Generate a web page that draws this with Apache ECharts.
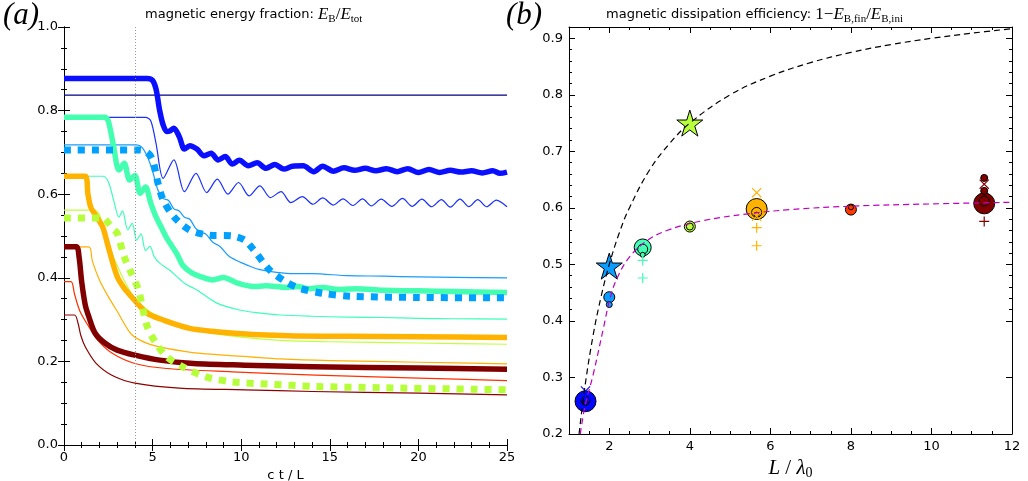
<!DOCTYPE html>
<html>
<head>
<meta charset="utf-8">
<script src="https://cdn.jsdelivr.net/npm/echarts@6/dist/echarts.min.js"></script>
<style>
  html, body { margin: 0; background: #fff; }
  #chart { width: 1028px; height: 481px; }
</style>
</head>
<body>
<div id="chart"></div>
<script>
// ---- panel (a): magnetic energy fraction vs c t / L ----
const xTicksA = [0, 5, 10, 15, 20, 25]
const yTicksA = [0.0, 0.2, 0.4, 0.6, 0.8, 1.0]

const thickBlue = [[0,0.877],[4.7,0.877],[5.0,0.872],[5.2,0.85],[5.4,0.80],[5.6,0.765],[5.8,0.750],[6.0,0.752],[6.2,0.758],[6.5,0.738],[6.8,0.708],[7.1,0.716],[7.5,0.708],[7.9,0.692],[8.3,0.698],[8.7,0.682],[9.1,0.690],[9.5,0.672],[9.9,0.681],[10.4,0.668],[10.9,0.675],[11.4,0.662],[11.9,0.671],[12.4,0.660],[12.9,0.667],[13.5,0.668],[14.1,0.654],[14.6,0.667],[15.2,0.655],[15.8,0.663],[16.4,0.657],[17.0,0.662],[17.6,0.656],[18.2,0.661],[18.8,0.654],[19.4,0.661],[20.0,0.652],[20.6,0.659],[21.2,0.652],[21.8,0.657],[22.4,0.653],[23.0,0.656],[23.6,0.651],[24.2,0.656],[24.6,0.650],[25,0.653]]
const navyFlat = [[0,0.837],[25,0.837]]
const thinBlue = [[0,0.784],[4.6,0.784],[4.9,0.775],[5.2,0.72],[5.6,0.638],[6.2,0.682],[6.8,0.606],[7.45,0.650],[8.05,0.604],[8.65,0.636],[9.25,0.600],[9.85,0.628],[10.45,0.596],[11.05,0.620],[11.65,0.592],[12.25,0.606],[12.8,0.580],[13.45,0.594],[14.05,0.576],[14.6,0.591],[15.2,0.574],[15.75,0.589],[16.3,0.573],[16.85,0.589],[17.35,0.572],[17.9,0.588],[18.5,0.571],[19.1,0.590],[19.65,0.571],[20.2,0.588],[20.75,0.570],[21.3,0.587],[21.8,0.569],[22.35,0.588],[22.85,0.570],[23.35,0.587],[23.85,0.570],[24.4,0.586],[25,0.570]]
const thickAqua = [[0,0.784],[2.3,0.784],[2.5,0.775],[2.8,0.714],[3.1,0.658],[3.4,0.674],[3.7,0.634],[4.0,0.645],[4.3,0.602],[4.6,0.617],[4.9,0.578],[5.2,0.545],[5.5,0.52],[5.8,0.495],[6.1,0.475],[6.4,0.455],[6.7,0.43],[7.2,0.412],[7.7,0.403],[8.4,0.395],[9.0,0.401],[9.8,0.387],[10.7,0.379],[11.4,0.381],[12.5,0.377],[13.2,0.379],[13.8,0.374],[14.6,0.377],[15.5,0.372],[16.5,0.374],[18,0.370],[20,0.369],[22,0.367],[25,0.365]]
const thinDodger = [[0,0.718],[4.1,0.718],[4.4,0.712],[4.7,0.69],[5.0,0.655],[5.3,0.61],[5.6,0.59],[5.9,0.585],[6.2,0.565],[6.5,0.56],[6.8,0.545],[7.1,0.54],[7.4,0.52],[7.7,0.508],[8.0,0.505],[8.4,0.485],[8.8,0.475],[9.3,0.452],[9.8,0.44],[10.3,0.431],[11,0.42],[12,0.413],[13,0.41],[14,0.41],[16,0.405],[18,0.404],[20,0.402],[22,0.401],[25,0.40]]
const dottedDodger = [[0,0.706],[4.3,0.706],[4.7,0.70],[5.0,0.682],[5.3,0.627],[5.6,0.586],[6.2,0.546],[7.1,0.514],[8.2,0.502],[9.5,0.500],[10.2,0.49],[10.7,0.467],[11.6,0.419],[12.5,0.391],[13.3,0.375],[14.6,0.363],[16.2,0.356],[20,0.353],[25,0.352]]
const thinAqua = [[0,0.643],[2.2,0.643],[2.5,0.63],[2.8,0.586],[3.1,0.545],[3.3,0.56],[3.6,0.515],[3.85,0.53],[4.1,0.49],[4.35,0.505],[4.6,0.465],[4.85,0.475],[5.1,0.45],[5.4,0.435],[6.0,0.417],[6.8,0.387],[7.5,0.371],[8.6,0.34],[9.9,0.323],[11.0,0.316],[12.2,0.311],[14,0.308],[16,0.306],[18,0.305],[20,0.303],[22,0.302],[25,0.301]]
const thickOrange = [[0,0.643],[1.2,0.643],[1.35,0.6],[1.5,0.57],[1.7,0.555],[2.0,0.535],[2.2,0.52],[2.5,0.474],[3.0,0.403],[3.4,0.375],[3.8,0.355],[4.7,0.315],[5.6,0.299],[7.1,0.279],[8.6,0.271],[10,0.266],[11.4,0.263],[13,0.261],[16,0.260],[20,0.259],[25,0.257]]
const thinYG = [[0,0.562],[1.7,0.562],[2.0,0.55],[2.3,0.51],[2.7,0.46],[3.1,0.42],[3.5,0.385],[4.0,0.35],[4.5,0.33],[5.0,0.315],[6,0.297],[7,0.282],[8,0.27],[10,0.258],[12,0.251],[15,0.247],[20,0.244],[25,0.241]]
const dottedYG = [[0,0.543],[2.2,0.543],[2.5,0.531],[2.8,0.515],[3.0,0.507],[3.4,0.450],[3.8,0.411],[4.2,0.371],[4.7,0.283],[5.2,0.243],[5.8,0.211],[6.7,0.187],[8.0,0.163],[9.5,0.151],[11.4,0.146],[14.2,0.140],[18,0.137],[25,0.132]]
const thinOrange = [[0,0.474],[1.4,0.474],[1.6,0.44],[2.0,0.395],[2.5,0.355],[3.0,0.32],[3.8,0.265],[4.7,0.243],[5.8,0.231],[7.7,0.219],[10.5,0.211],[12.2,0.206],[15,0.202],[20,0.198],[25,0.194]]
const thickMaroon = [[0,0.474],[0.7,0.474],[0.85,0.45],[1.0,0.39],[1.2,0.335],[1.4,0.307],[1.75,0.268],[2.3,0.244],[3.0,0.227],[4.0,0.215],[5.4,0.203],[7.3,0.195],[10.2,0.191],[14,0.187],[20,0.184],[25,0.181]]
const thinRed = [[0,0.391],[0.4,0.391],[0.6,0.36],[0.9,0.32],[1.4,0.283],[1.9,0.251],[2.7,0.22],[4.0,0.195],[5.8,0.183],[9.5,0.175],[14.2,0.167],[20,0.16],[25,0.154]]
const thinDarkRed = [[0,0.311],[0.6,0.311],[0.8,0.29],[0.95,0.262],[1.2,0.235],[1.8,0.196],[2.7,0.167],[4.0,0.148],[6.5,0.136],[10.2,0.132],[14,0.128],[20,0.124],[25,0.120]]
const markTime = 4

// ---- panel (b): dissipation efficiency vs L / lambda0 ----
const xTicksB = [2, 4, 6, 8, 10, 12]
const yTicksB = [0.2, 0.3, 0.4, 0.5, 0.6, 0.7, 0.8, 0.9]

const blackCurve = [[1.25,0.2],[1.4,0.286],[1.6,0.375],[1.8,0.444],[2,0.5],[2.25,0.556],[2.5,0.6],[3,0.667],[3.5,0.714],[4,0.75],[5,0.8],[6,0.833],[7,0.857],[8,0.875],[9,0.889],[10,0.9],[11,0.909],[12,0.917]]
const magentaCurve = [[1.28,0.2],[1.4,0.25],[1.6,0.305],[1.86,0.389],[2.02,0.44],[2.19,0.475],[2.5,0.513],[2.94,0.542],[3.43,0.56],[4.3,0.577],[5.4,0.589],[6.5,0.597],[8,0.603],[10,0.607],[12,0.61]]

const starPts = [[2,0.497],[4,0.750]]
const discLarge = [[1.41,0.258],[2.83,0.530],[5.66,0.598],[11.31,0.608]]
const discMid = [[1.41,0.259],[2,0.442],[2.83,0.527],[4,0.567],[5.66,0.592],[8,0.597],[11.31,0.612]]
const discSmall = [[1.41,0.255],[2,0.429],[2.83,0.517],[4,0.567],[5.66,0.588],[8,0.601],[11.31,0.630],[11.31,0.653]]
const crossPts = [[1.41,0.276],[5.66,0.627],[5.66,0.585],[11.31,0.642]]
const plusPts = [[1.41,0.262],[2.83,0.507],[2.83,0.476],[5.66,0.565],[5.66,0.533],[11.31,0.576]]

// styles
const caseColor = {1.41:'#0008ff', 2:'#0a9cff', 2.83:'#42ffb4', 4:'#b8ff3c', 5.66:'#ffb300', 8:'#ff3a00', 11.31:'#800000'}
const largeSize = {1.41:21, 2.83:17, 5.66:21, 11.31:21}
const midSize = {1.41:9, 2:11, 2.83:10, 4:11, 5.66:10, 8:11, 11.31:10}
const smallSize = {1.41:5, 2:6, 2.83:5, 4:7, 5.66:5, 8:5, 11.31:7}
const STAR = 'path://M0,-100L22.45,-30.9L95.1,-30.9L36.33,11.8L58.8,80.9L0,38.2L-58.8,80.9L-36.33,11.8L-95.1,-30.9L-22.45,-30.9Z'
const PLUS = 'path://M4.4,0h1.2v10h-1.2zM0,4.4h10v1.2h-10z'
const CROSS = 'path://M0,0.8L0.8,0L10,9.2L9.2,10ZM9.2,0L10,0.8L0.8,10L0,9.2Z'

const SANS = 'DejaVu Sans'
const SERIF = 'Liberation Serif'

function line(data, color, width, dotted) {
    return {
        type: 'line', xAxisIndex: 0, yAxisIndex: 0, data: data,
        symbol: 'none', smooth: 0.3,
        lineStyle: {color: color, width: width, type: dotted ? [7, 7] : 'solid', cap: 'butt', join: 'round'},
        emphasis: {disabled: true}
    }
}

function dots(data, symbol, sizeOf, border) {
    return {
        type: 'scatter', xAxisIndex: 2, yAxisIndex: 2, data: data,
        symbol: symbol,
        symbolSize: function (v) { return sizeOf[v[0]] },
        itemStyle: {
            color: function (p) { return caseColor[p.value[0]] },
            borderColor: border ? '#000' : 'transparent',
            borderWidth: border ? 1 : 0,
            opacity: 1
        },
        emphasis: {disabled: true}
    }
}

function tickAxis(extra) {
    return Object.assign({
        type: 'value',
        axisLine: {show: true, lineStyle: {color: '#000', width: 1}},
        axisTick: {show: true, inside: true, length: 6, lineStyle: {color: '#000', width: 1}},
        axisLabel: {show: false},
        splitLine: {show: false}
    }, extra)
}

const labelStyle = {show: true, color: '#000', fontFamily: SANS, fontSize: 13}
const yMinorB = []
for (let k = 21; k <= 46; k++) if (k % 5 !== 0) yMinorB.push(k * 0.02)
const xMinorB = [1.5, 2.5, 3, 3.5, 4.5, 5, 5.5, 6.5, 7, 7.5, 8.5, 9, 9.5, 10.5, 11, 11.5]

const aMinor = {show: true, length: 3, lineStyle: {color: '#000'}}

const titleRich = {
    t: {fontFamily: SANS, fontSize: 13, fontWeight: 'normal', color: '#000', lineHeight: 20},
    m: {fontFamily: SERIF, fontStyle: 'italic', fontWeight: 'normal', fontSize: 17, color: '#000', lineHeight: 20},
    u: {fontFamily: SERIF, fontWeight: 'normal', fontSize: 17, color: '#000', lineHeight: 20},
    s: {fontFamily: SERIF, fontWeight: 'normal', fontSize: 11, color: '#000', lineHeight: 12, verticalAlign: 'bottom'}
}

let option = {
    animation: false,
    backgroundColor: '#fff',
    title: [
        {
            left: 140, top: 0,
            text: '{t|magnetic energy fraction: }{m|E}{s|B}{u|/}{m|E}{s|tot}',
            textStyle: {fontWeight: 'normal', rich: titleRich}
        },
        {
            left: 601, top: 0,
            text: '{t|magnetic dissipation efficiency: }{u|1−}{m|E}{s|B,fin}{u|/}{m|E}{s|B,ini}',
            textStyle: {fontWeight: 'normal', rich: titleRich}
        }
    ],
    graphic: [
        {type: 'text', left: 3, top: 0, style: {text: '(a)', font: 'italic 31px "Liberation Serif"', fill: '#000'}},
        {type: 'text', left: 506, top: 0, style: {text: '(b)', font: 'italic 31px "Liberation Serif"', fill: '#000'}}
    ],
    grid: [
        {left: 64, top: 27, width: 443, height: 418, outerBoundsMode: 'none', containLabel: false},
        {left: 569, top: 27, width: 443, height: 407, outerBoundsMode: 'none', containLabel: false}
    ],
    xAxis: [
        tickAxis({gridIndex: 0, position: 'bottom', min: 0, max: 25, interval: 5,
            axisLabel: Object.assign({margin: 6, customValues: xTicksA}, labelStyle),
            minorTick: Object.assign({splitNumber: 5}, aMinor),
            name: 'c t / L', nameLocation: 'middle', nameGap: 23,
            nameTextStyle: {fontFamily: SANS, fontSize: 13, color: '#000'}}),
        tickAxis({gridIndex: 0, position: 'top', min: 0, max: 25, interval: 5,
            minorTick: Object.assign({splitNumber: 5}, aMinor)}),
        tickAxis({gridIndex: 1, position: 'bottom', min: 1, max: 12,
            axisTick: {show: true, inside: true, length: 6, customValues: xTicksB, lineStyle: {color: '#000'}},
            axisLabel: Object.assign({margin: 6, customValues: xTicksB}, labelStyle),
            name: '{m|L}{u| / }{m|λ}{s|0}', nameLocation: 'middle', nameGap: 20,
            nameTextStyle: {rich: {
                m: {fontFamily: SERIF, fontStyle: 'italic', fontSize: 21, color: '#000', lineHeight: 24},
                u: {fontFamily: SERIF, fontSize: 21, color: '#000', lineHeight: 24},
                s: {fontFamily: SERIF, fontSize: 14, color: '#000', lineHeight: 14, verticalAlign: 'bottom'}
            }}}),
        tickAxis({gridIndex: 1, position: 'bottom', min: 1, max: 12, axisLine: {show: false},
            axisTick: {show: true, inside: true, length: 3, customValues: xMinorB, lineStyle: {color: '#000'}}}),
        tickAxis({gridIndex: 1, position: 'top', min: 1, max: 12,
            axisTick: {show: true, inside: true, length: 6, customValues: xTicksB, lineStyle: {color: '#000'}}}),
        tickAxis({gridIndex: 1, position: 'top', min: 1, max: 12, axisLine: {show: false},
            axisTick: {show: true, inside: true, length: 3, customValues: xMinorB, lineStyle: {color: '#000'}}})
    ],
    yAxis: [
        tickAxis({gridIndex: 0, position: 'left', min: 0, max: 1, interval: 0.2,
            axisLabel: Object.assign({margin: 6, formatter: v => v.toFixed(1)}, labelStyle),
            minorTick: Object.assign({splitNumber: 4}, aMinor)}),
        tickAxis({gridIndex: 0, position: 'right', min: 0, max: 1, interval: 0.2,
            minorTick: Object.assign({splitNumber: 4}, aMinor)}),
        tickAxis({gridIndex: 1, position: 'left', min: 0.2, max: 0.92,
            axisTick: {show: true, inside: true, length: 6, customValues: yTicksB, lineStyle: {color: '#000'}},
            axisLabel: Object.assign({margin: 6, customValues: yTicksB, formatter: v => v.toFixed(1)}, labelStyle)}),
        tickAxis({gridIndex: 1, position: 'left', min: 0.2, max: 0.92, axisLine: {show: false},
            axisTick: {show: true, inside: true, length: 3, customValues: yMinorB, lineStyle: {color: '#000'}}}),
        tickAxis({gridIndex: 1, position: 'right', min: 0.2, max: 0.92,
            axisTick: {show: true, inside: true, length: 6, customValues: yTicksB, lineStyle: {color: '#000'}}}),
        tickAxis({gridIndex: 1, position: 'right', min: 0.2, max: 0.92, axisLine: {show: false},
            axisTick: {show: true, inside: true, length: 3, customValues: yMinorB, lineStyle: {color: '#000'}}})
    ],
    series: [
        Object.assign(line(navyFlat, '#000080', 1.2, false), {
            markLine: {
                silent: true, symbol: 'none', label: {show: false},
                lineStyle: {color: '#999', width: 1, type: [1, 2]},
                data: [{xAxis: markTime}]
            }
        }),
        line(thinDarkRed, '#8c0000', 1.2),
        line(thinRed, '#ff3000', 1.2),
        line(thinOrange, '#ffb000', 1.2),
        line(thinYG, '#c0ff3a', 1.2),
        line(thinAqua, '#3dffb8', 1.2),
        line(thinDodger, '#1a9cff', 1.2),
        line(thinBlue, '#1a30ff', 1.2),
        line(thickMaroon, '#800000', 5.5),
        line(thickOrange, '#ffb300', 5.5),
        line(thickAqua, '#45ffb0', 5.5),
        line(thickBlue, '#0a10ff', 5.5),
        line(dottedYG, '#b5ff3a', 7, true),
        line(dottedDodger, '#00a0ff', 7, true),

        {type: 'line', xAxisIndex: 2, yAxisIndex: 2, data: blackCurve, symbol: 'none', smooth: 0.4,
            lineStyle: {color: '#000', width: 1.2, type: [6, 4]}, emphasis: {disabled: true}},
        {type: 'line', xAxisIndex: 2, yAxisIndex: 2, data: magentaCurve, symbol: 'none', smooth: 0.4,
            lineStyle: {color: '#c000c0', width: 1.2, type: [6, 4]}, emphasis: {disabled: true}},
        dots(discLarge, 'circle', largeSize, true),
        dots(discMid, 'circle', midSize, true),
        dots(discSmall, 'circle', smallSize, true),
        dots(starPts, STAR, {2: 26, 4: 26}, true),
        dots(crossPts, CROSS, {1.41: 10, 5.66: 10, 11.31: 10}, false),
        dots(plusPts, PLUS, {1.41: 10, 2.83: 10, 5.66: 10, 11.31: 10}, false)
    ]
}

let mychart = echarts.init(document.getElementById('chart'))
mychart.setOption(option)
</script>
</body>
</html>
